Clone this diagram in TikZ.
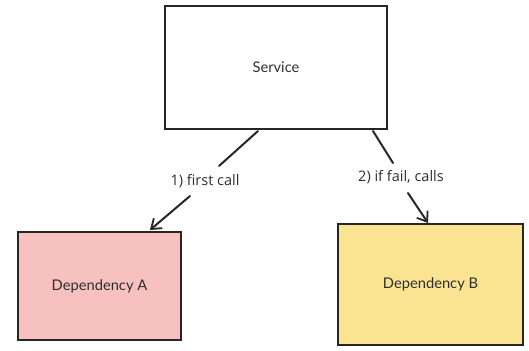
\documentclass[tikz,border=0pt]{standalone}
\usepackage{fontspec}
\setmainfont{Lato}
\newfontfamily\labelfont{Open Sans}
\usetikzlibrary{arrows.meta}
\definecolor{inkgray}{HTML}{2E2E2E}
\definecolor{pinkfill}{HTML}{F7C1C0}
\definecolor{yellowfill}{HTML}{FAE492}
\tikzset{
  boxstyle/.style={draw=black!85, line width=1.7pt, inner sep=0pt, font=\fontsize{14.7}{16}\selectfont, text=inkgray},
  linkstyle/.style={draw=black!85, line width=2pt, line cap=round},
  tipstyle/.style={-{Straight Barb[length=9pt,width=13pt,line width=1.8pt]}},
  tagstyle/.style={font=\labelfont\fontsize{14.5}{16}\selectfont, text=inkgray, inner sep=1pt}
}
\begin{document}
\begin{tikzpicture}[x=1pt,y=-1pt]
\useasboundingbox (0,0) rectangle (529,350);
% boxes
\node[boxstyle, fill=white, minimum width=222pt, minimum height=123pt] (svc) at (276,67.5) {Service};
\node[boxstyle, fill=pinkfill, minimum width=163pt, minimum height=108pt] (depa) at (99.5,286) {Dependency A};
\node[boxstyle, fill=yellowfill, minimum width=185pt, minimum height=121pt] (depb) at (430.5,284.5) {Dependency B};
% labels on the links
\node[tagstyle] (tagA) at (205,181) {1) first call};
\node[tagstyle] (tagB) at (401,177) {2) if fail, calls};
% link anchors
\coordinate (a0) at (258,131);
\coordinate (a1) at (219,166);
\coordinate (a2) at (190,196);
\coordinate (a3) at (150,230);
\coordinate (b0) at (373,131);
\coordinate (b1) at (393,163);
\coordinate (b2) at (408,193);
\coordinate (b3) at (428,223);
\draw[linkstyle] (a0) -- (a1);
\draw[linkstyle, tipstyle] (a2) -- (a3);
\draw[linkstyle] (b0) -- (b1);
\draw[linkstyle, tipstyle] (b2) -- (b3);
\end{tikzpicture}
\end{document}
